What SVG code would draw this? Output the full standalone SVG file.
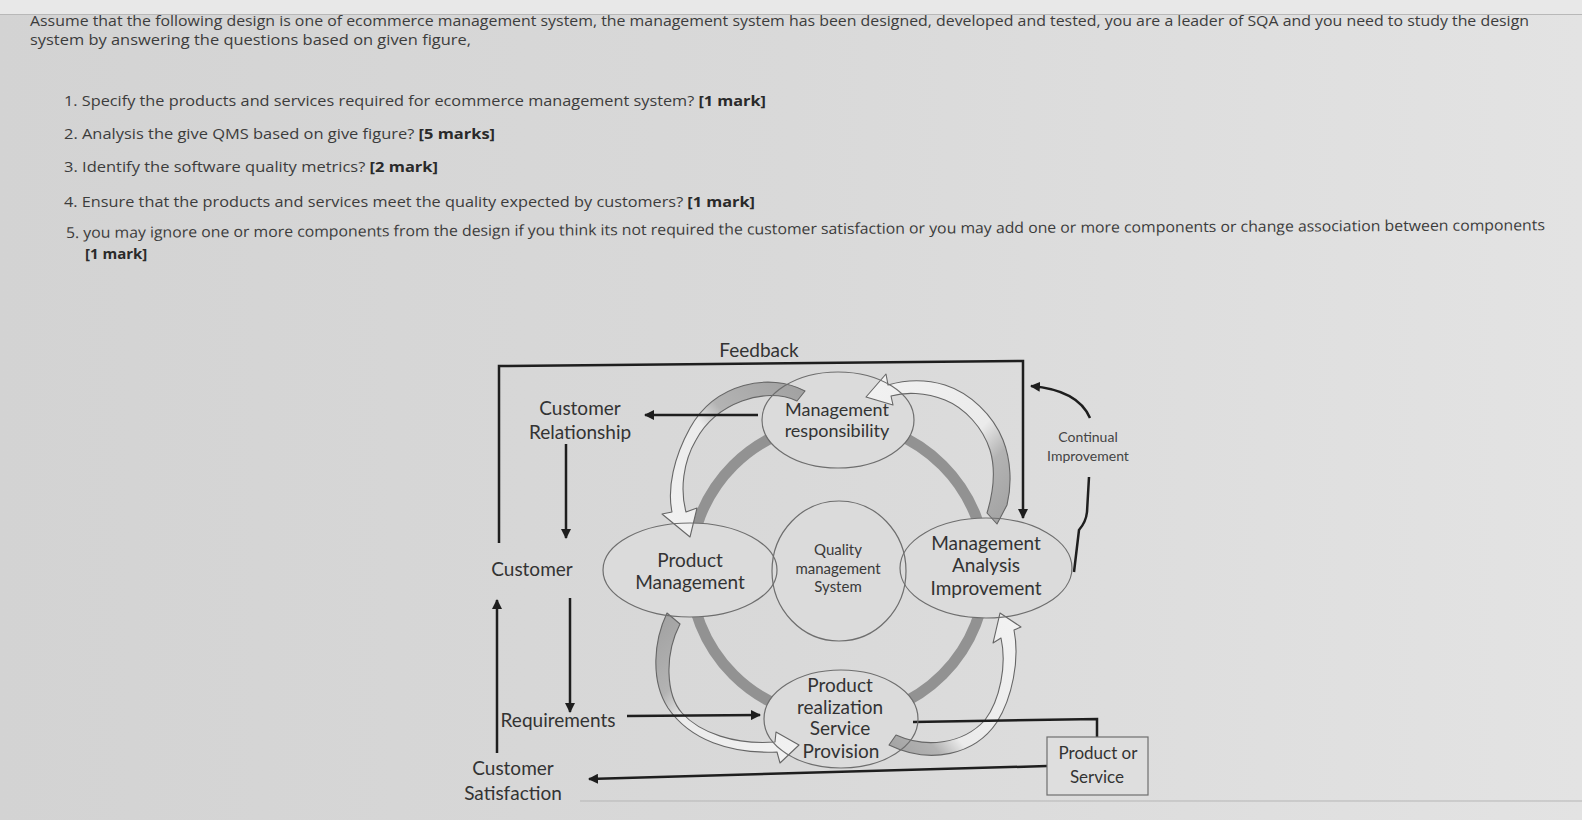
<svg xmlns="http://www.w3.org/2000/svg" width="1582" height="820" viewBox="0 0 1582 820">
<defs>
<linearGradient id="bg" x1="0" y1="0" x2="1" y2="0">
<stop offset="0" stop-color="#d3d3d3"/>
<stop offset="0.5" stop-color="#d9d9d9"/>
<stop offset="1" stop-color="#e3e3e3"/>
</linearGradient>
<linearGradient id="g1" x1="1" y1="0" x2="0" y2="1">
<stop offset="0" stop-color="#a0a0a0"/>
<stop offset="0.38" stop-color="#b3b3b3"/>
<stop offset="0.5" stop-color="#ebebeb"/>
<stop offset="1" stop-color="#f2f2f2"/>
</linearGradient>
<linearGradient id="g2" x1="1" y1="1" x2="0" y2="0">
<stop offset="0" stop-color="#a0a0a0"/>
<stop offset="0.27" stop-color="#b3b3b3"/>
<stop offset="0.42" stop-color="#ebebeb"/>
<stop offset="1" stop-color="#f2f2f2"/>
</linearGradient>
<linearGradient id="g3" x1="0" y1="0" x2="1" y2="1">
<stop offset="0" stop-color="#a0a0a0"/>
<stop offset="0.3" stop-color="#b3b3b3"/>
<stop offset="0.44" stop-color="#ebebeb"/>
<stop offset="1" stop-color="#f2f2f2"/>
</linearGradient>
<linearGradient id="g4" x1="0" y1="1" x2="1" y2="0">
<stop offset="0" stop-color="#a0a0a0"/>
<stop offset="0.2" stop-color="#b3b3b3"/>
<stop offset="0.32" stop-color="#ebebeb"/>
<stop offset="1" stop-color="#f2f2f2"/>
</linearGradient>
<marker id="ah" viewBox="0 0 10 10" refX="9" refY="5" markerWidth="4" markerHeight="4" orient="auto-start-reverse" markerUnits="strokeWidth">
<path d="M0,0 L10,5 L0,10 Z" fill="#1e1e1e"/>
</marker>
<style>
.q{font-family:"Open Sans","Liberation Sans",sans-serif;font-size:15px;fill:#3c3c3c}
.b{font-weight:bold;fill:#2a2a2a}
.t{font-family:Lato,"Liberation Sans",sans-serif;font-size:19px;fill:#333;text-anchor:middle}
.s{font-family:Lato,"Liberation Sans",sans-serif;font-size:15px;fill:#3a3a3a;text-anchor:middle}
.c{font-family:Lato,"Liberation Sans",sans-serif;font-size:14px;fill:#444;text-anchor:middle}
.under{fill:#dbdbdb;stroke:none}
.ell{fill:none;stroke:#6e6e6e;stroke-width:1.2}
.ln{fill:none;stroke:#1e1e1e;stroke-width:2.5}
.ca{stroke:#666;stroke-width:1.1;stroke-linejoin:round}
</style>
</defs>
<rect width="1582" height="820" fill="url(#bg)"/>
<rect width="1582" height="14" fill="#e8e8e8"/>
<line x1="0" y1="14.5" x2="1582" y2="14.5" stroke="#b8b8b8" stroke-width="1"/>
<line x1="580" y1="801" x2="1582" y2="801" stroke="#b5b5b5" stroke-width="1"/>

<g id="question-text">
<text class="q" x="30" y="26" textLength="1499" lengthAdjust="spacingAndGlyphs">Assume that the following design is one of ecommerce management system, the management system has been designed, developed and tested, you are a leader of SQA and you need to study the design</text>
<text class="q" x="30" y="45" textLength="441" lengthAdjust="spacingAndGlyphs">system by answering the questions based on given figure,</text>
<text class="q" x="64" y="106" textLength="702" lengthAdjust="spacingAndGlyphs">1. Specify the products and services required for ecommerce management system? <tspan class="b">[1 mark]</tspan></text>
<text class="q" x="64" y="139" textLength="431" lengthAdjust="spacingAndGlyphs">2. Analysis the give QMS based on give figure? <tspan class="b">[5 marks]</tspan></text>
<text class="q" x="64" y="172" textLength="374" lengthAdjust="spacingAndGlyphs">3. Identify the software quality metrics? <tspan class="b">[2 mark]</tspan></text>
<text class="q" x="64" y="207" textLength="691" lengthAdjust="spacingAndGlyphs">4. Ensure that the products and services meet the quality expected by customers? <tspan class="b">[1 mark]</tspan></text>
<text class="q" x="66" y="238" textLength="1479" lengthAdjust="spacingAndGlyphs" transform="rotate(-0.3 66 238)">5. you may ignore one or more components from the design if you think its not required the customer satisfaction or you may add one or more components or change association between components</text>
<text class="q b" x="85" y="259">[1 mark]</text>
</g>

<g id="ring">
<circle cx="838" cy="570" r="148" fill="none" stroke="#929292" stroke-width="11"/>
<ellipse class="under" cx="838" cy="420" rx="76" ry="48"/>
<ellipse class="under" cx="690" cy="570" rx="87" ry="47"/>
<ellipse class="under" cx="839" cy="571" rx="67" ry="70"/>
<ellipse class="under" cx="986" cy="568" rx="86" ry="50"/>
<ellipse class="under" cx="841" cy="719" rx="77" ry="49"/>
</g>

<g id="cycle-arrows">
<path class="ca" fill="url(#g1)" d="M805,391 C770,372 715,383 690,428 C674,457 667,488 672,512 L662,514 L690,537 L697,508 L686,512 C680,490 683,462 696,440 C716,403 765,386 797,401 Z"/>
<path class="ca" fill="url(#g2)" d="M997,524 L1007,505 C1012,485 1011,460 1003,440 C993,415 970,393 945,385 C925,379 905,380 888,385 L886,374 L866,397 L893,405 L891,396 C905,392 925,392 945,400 C965,408 983,428 990,450 C996,470 994,490 987,513 Z"/>
<path class="ca" fill="url(#g3)" d="M667,613 C654,640 650,680 668,708 C690,740 730,754 777,752 L780,763 L799,745 L776,732 L775,742 C735,745 700,733 682,713 C666,695 664,655 680,624 Z"/>
<path class="ca" fill="url(#g4)" d="M889,745 C930,765 975,755 997,722 C1012,698 1020,660 1014,630 L1021,627 L1000,613 L993,643 L1001,638 C1007,665 1000,700 985,720 C962,745 925,748 896,735 Z"/>
</g>

<g id="connectors">
<polyline class="ln" points="499,543 499,366 1023,361 1023,518" marker-end="url(#ah)"/>
<line class="ln" x1="758" y1="415" x2="645" y2="415" marker-end="url(#ah)"/>
<line class="ln" x1="566" y1="444" x2="566" y2="538" marker-end="url(#ah)"/>
<line class="ln" x1="497" y1="753" x2="497" y2="600" marker-end="url(#ah)"/>
<line class="ln" x1="570" y1="598" x2="570" y2="712" marker-end="url(#ah)"/>
<line class="ln" x1="627" y1="716" x2="760" y2="715" marker-end="url(#ah)"/>
<polyline class="ln" points="913,722 1097,719 1097,737"/>
<line class="ln" x1="1047" y1="766" x2="589" y2="779" marker-end="url(#ah)"/>
<path class="ln" d="M1090,418 Q1078,390 1031,386" marker-end="url(#ah)"/>
<path class="ln" d="M1089,477 L1087,512 Q1086,522 1079,530 L1074,572"/>
</g>

<g id="management-responsibility">
<ellipse class="ell" cx="838" cy="420" rx="76" ry="48"/>
<text class="t" x="837" y="416" style="font-size:18px">Management</text>
<text class="t" x="837" y="437" style="font-size:18px">responsibility</text>
</g>
<g id="product-management">
<ellipse class="ell" cx="690" cy="570" rx="87" ry="47"/>
<text class="t" x="690" y="567">Product</text>
<text class="t" x="690" y="589">Management</text>
</g>
<g id="quality-management-system">
<ellipse class="ell" cx="839" cy="571" rx="67" ry="70"/>
<text class="s" x="838" y="555">Quality</text>
<text class="s" x="838" y="574">management</text>
<text class="s" x="838" y="592">System</text>
</g>
<g id="management-analysis-improvement">
<ellipse class="ell" cx="986" cy="568" rx="86" ry="50"/>
<text class="t" x="986" y="550">Management</text>
<text class="t" x="986" y="572">Analysis</text>
<text class="t" x="986" y="595">Improvement</text>
</g>
<g id="product-realization">
<ellipse class="ell" cx="841" cy="719" rx="77" ry="49"/>
<text class="t" x="840" y="692">Product</text>
<text class="t" x="840" y="714">realization</text>
<text class="t" x="840" y="735">Service</text>
<text class="t" x="841" y="758">Provision</text>
</g>
<g id="product-or-service">
<rect x="1047" y="737" width="101" height="58" fill="#dedede" stroke="#6e6e6e" stroke-width="1.2"/>
<text class="t" x="1098" y="759" style="font-size:17px">Product or</text>
<text class="t" x="1097" y="783" style="font-size:17px">Service</text>
</g>
<g id="labels">
<text class="t" x="759" y="357">Feedback</text>
<text class="t" x="580" y="415">Customer</text>
<text class="t" x="580" y="439">Relationship</text>
<text class="t" x="532" y="576">Customer</text>
<text class="t" x="558" y="727">Requirements</text>
<text class="t" x="513" y="775">Customer</text>
<text class="t" x="513" y="800">Satisfaction</text>
<text class="c" x="1088" y="442">Continual</text>
<text class="c" x="1088" y="461">Improvement</text>
</g>
</svg>
